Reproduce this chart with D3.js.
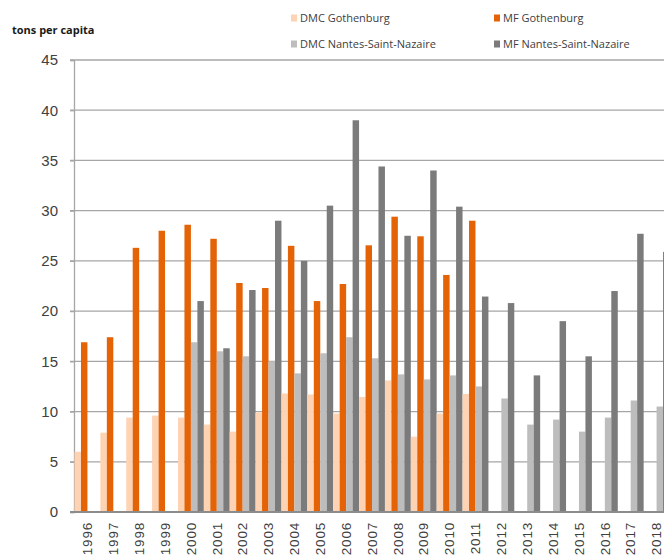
<!DOCTYPE html>
<html>
<head>
<meta charset="utf-8">
<script src="https://cdn.jsdelivr.net/npm/d3@7"></script>
<style>
  body { margin: 0; background: #fff; }
  svg { display: block; font-family: "Open Sans", "DejaVu Sans", sans-serif; }
</style>
</head>
<body>
<div id="chart-container"></div>
<script>
// years on the x axis
const years = ['1996','1997','1998','1999','2000','2001','2002','2003','2004','2005','2006','2007',
  '2008','2009','2010','2011','2012','2013','2014','2015','2016','2017','2018'];

// series values (null = no bar)
const dmcGothenburg = [6.0, 7.9, 9.4, 9.6, 9.4, 8.7, 8.0, 9.9, 11.8, 11.7, 9.8, 11.45,
  13.1, 7.5, 9.8, 11.75, null, null, null, null, null, null, null];
const mfGothenburg = [16.9, 17.4, 26.3, 28.0, 28.6, 27.2, 22.8, 22.3, 26.5, 21.0, 22.7, 26.55,
  29.4, 27.45, 23.6, 29.0, null, null, null, null, null, null, null];
const dmcNantes = [null, null, null, null, 16.9, 16.0, 15.5, 15.0, 13.8, 15.8, 17.4, 15.3,
  13.7, 13.2, 13.6, 12.5, 11.3, 8.7, 9.2, 8.0, 9.4, 11.1, 10.5];
const mfNantes = [null, null, null, null, 21.0, 16.3, 22.1, 29.0, 25.0, 30.5, 39.0, 34.4,
  27.5, 34.0, 30.4, 21.45, 20.8, 13.6, 19.0, 15.5, 22.0, 27.7, 25.9];

const seriesNames = ['DMC Gothenburg', 'MF Gothenburg', 'DMC Nantes-Saint-Nazaire', 'MF Nantes-Saint-Nazaire'];
const seriesValues = [dmcGothenburg, mfGothenburg, dmcNantes, mfNantes];
const seriesColors = ['#fdd3b3', '#e46307', '#bdbdbd', '#7b7b7b'];
const yTicks = [0, 5, 10, 15, 20, 25, 30, 35, 40, 45];

const width = 664, height = 557;
const margin = { top: 60, left: 74, bottom: 45 };
const bandW = 25.87;

const svg = d3.select('#chart-container')
  .append('svg')
  .attr('width', width)
  .attr('height', height);

const x = d3.scaleBand()
  .domain(years)
  .range([margin.left + 0.5, margin.left + 0.5 + bandW * years.length])
  .padding(0);

const xSub = d3.scaleBand()
  .domain(d3.range(seriesNames.length))
  .range([0, x.bandwidth()])
  .padding(0);

const y = d3.scaleLinear()
  .domain([0, 45])
  .range([height - margin.bottom, margin.top]);

// gridlines
svg.append('g')
  .selectAll('line')
  .data(yTicks.filter(d => d > 0))
  .enter()
  .append('line')
  .attr('x1', margin.left - 4)
  .attr('x2', width)
  .attr('y1', d => y(d))
  .attr('y2', d => y(d))
  .attr('stroke', '#a6a6a6')
  .attr('stroke-width', 1.3);

// y axis
const yAxis = svg.append('g')
  .attr('transform', `translate(${margin.left},0)`)
  .call(d3.axisLeft(y).tickValues(yTicks).tickSize(4).tickPadding(12));
yAxis.select('.domain').attr('stroke', '#a6a6a6').attr('stroke-width', 1.3);
yAxis.selectAll('.tick line').attr('stroke', '#a6a6a6').attr('stroke-width', 1.3);
yAxis.selectAll('text')
  .attr('fill', '#404040')
  .style('font-size', '15px');

// bars
const groups = svg.append('g')
  .selectAll('g')
  .data(years)
  .enter()
  .append('g')
  .attr('transform', d => `translate(${x(d)},0)`);

groups.selectAll('rect')
  .data((yr, i) => seriesValues.map((vals, s) => ({ s: s, v: vals[i] })).filter(d => d.v != null))
  .enter()
  .append('rect')
  .attr('x', d => xSub(d.s))
  .attr('width', xSub.bandwidth())
  .attr('y', d => y(d.v))
  .attr('height', d => y(0) - y(d.v))
  .attr('fill', d => seriesColors[d.s]);

// x axis
const xAxis = svg.append('g')
  .attr('transform', `translate(0,${y(0)})`)
  .call(d3.axisBottom(x).tickSize(0).tickPadding(10));
xAxis.select('.domain').attr('stroke', '#8c8c8c').attr('stroke-width', 2)
  .attr('d', `M${margin.left - 4},0H${width}`);
xAxis.selectAll('text')
  .attr('transform', 'rotate(-90)')
  .attr('x', -10)
  .attr('y', 0)
  .attr('dy', '0.35em')
  .style('text-anchor', 'end')
  .style('letter-spacing', '0.8px')
  .attr('fill', '#404040')
  .style('font-size', '13.5px');

// y axis title
svg.append('text')
  .attr('x', 12)
  .attr('y', 34)
  .attr('fill', '#1a1a1a')
  .style('font-size', '11px')
  .style('font-weight', 'bold')
  .text('tons per capita');

// legend
const legendPos = [[291, 18], [494, 18], [291, 44], [494, 44]];
const legend = svg.append('g')
  .selectAll('g')
  .data(seriesNames)
  .enter()
  .append('g')
  .attr('transform', (d, i) => `translate(${legendPos[i][0]},${legendPos[i][1]})`);

legend.append('rect')
  .attr('x', 0)
  .attr('y', -3.5)
  .attr('width', 6)
  .attr('height', 7)
  .attr('fill', (d, i) => seriesColors[i]);

legend.append('text')
  .attr('x', 9)
  .attr('y', 0)
  .attr('dy', '0.35em')
  .attr('fill', '#404040')
  .style('font-size', '11px')
  .text(d => d);
</script>
</body>
</html>
